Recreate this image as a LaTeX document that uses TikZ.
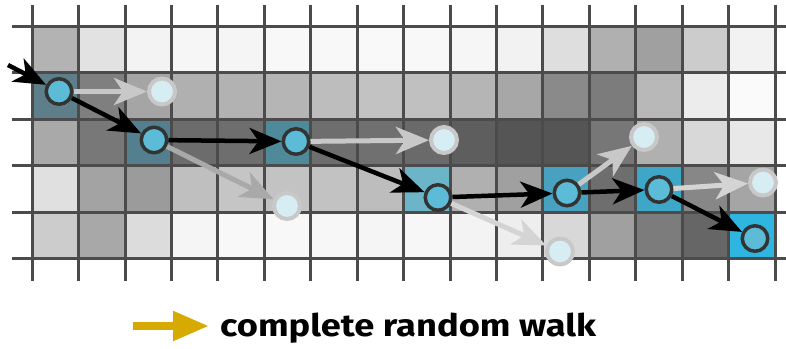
\documentclass[tikz,border=0pt]{standalone}
\usepackage{fontspec}
\newfontfamily\legendfont{Fira Sans}
\usetikzlibrary{arrows.meta}

\definecolor{gridgray}{RGB}{75,75,75}
\definecolor{nodeedge}{RGB}{51,51,51}
\definecolor{walkblue}{RGB}{92,187,214}
\definecolor{candfill}{RGB}{214,237,244}
\definecolor{candedge}{RGB}{200,200,200}
\definecolor{candarrowA}{RGB}{200,200,200}
\definecolor{candarrowB}{RGB}{169,169,169}
\definecolor{candarrowC}{RGB}{212,212,212}
\definecolor{legendgold}{RGB}{214,170,0}

\begin{document}
\begin{tikzpicture}[x=1pt,y=-1pt,
  gridline/.style={line width=3pt, draw=gridgray, line cap=butt},
  walknode/.style={circle, draw=nodeedge, fill=walkblue, line width=3.5pt,
    minimum size=25.5pt, inner sep=0pt},
  candnode/.style={circle, draw=candedge, fill=candfill, line width=4pt,
    minimum size=26pt, inner sep=0pt},
  walkarrow/.style={line width=4.5pt, draw=black,
    -{Stealth[length=32pt,width=26pt,inset=9pt]}},
  candarrow/.style={line width=5pt,
    -{Stealth[length=33pt,width=27pt,inset=9pt]}},
  legendarrow/.style={line width=8pt, draw=legendgold,
    -{Triangle[length=36pt,width=28pt]}},
]
\useasboundingbox (0,0) rectangle (786,348);

% cell shading, one list per row (grey levels)
\foreach \rowvals [count=\r from 0] in {
  {179,226,243,246,245,248,248,249,248,246,242,222,176,160,204,242},
  {94,127,165,176,178,181,189,194,192,181,167,138,124,184,236,250},
  {169,120,83,108,110,78,110,112,106,94,85,85,119,176,216,232},
  {224,163,155,191,197,195,194,189,108,176,160,72,110,62,135,165},
  {204,168,220,245,248,248,247,245,247,243,238,216,160,124,102,46}} {
  \foreach \v [count=\c from 0] in \rowvals {
    \definecolor{cellc}{RGB}{\v,\v,\v}
    \fill[cellc] (32.3+46.42*\c,26.5+46.42*\r) rectangle ++(46.42,46.42);
  }
}

% visited cells tinted blue
\foreach \c/\r/\cr/\cg/\cb in {0/1/94/127/137, 2/2/83/127/142, 5/2/78/138/154,
    8/3/108/180/200, 11/3/72/162/191, 13/3/62/166/198, 15/4/46/181/224} {
  \definecolor{cellc}{RGB}{\cr,\cg,\cb}
  \fill[cellc] (32.3+46.42*\c,26.5+46.42*\r) rectangle ++(46.42,46.42);
}

% grid lines with overhanging ends
\foreach \i in {0,...,16}
  \draw[gridline] (32.3+46.42*\i,4.5) -- (32.3+46.42*\i,280.5);
\foreach \j in {0,...,5}
  \draw[gridline] (12,26.5+46.42*\j) -- (786,26.5+46.42*\j);

% walk positions
\node[walknode] (A) at (59,91.5) {};
\node[walknode] (B) at (154,140) {};
\node[walknode] (C) at (296,141.5) {};
\node[walknode] (D) at (438,197.5) {};
\node[walknode] (E) at (567,193) {};
\node[walknode] (F) at (659,189.5) {};
\node[walknode] (G) at (755,238.5) {};

% rejected candidates
\node[candnode] (a1) at (162,91.5) {};
\node[candnode] (b1) at (287,206) {};
\node[candnode] (c1) at (444,140) {};
\node[candnode] (d1) at (560,251.5) {};
\node[candnode] (e1) at (644,137) {};
\node[candnode] (f1) at (763,182.5) {};

\coordinate (entry) at (8,65);

% candidate proposals
\draw[candarrow, draw=candarrowA] (A) -- (a1);
\draw[candarrow, draw=candarrowB] (B) -- (b1);
\draw[candarrow, draw=candarrowA] (C) -- (c1);
\draw[candarrow, draw=candarrowC] (D) -- (d1);
\draw[candarrow, draw=candarrowA] (E) -- (e1);
\draw[candarrow, draw=candarrowC] (F) -- (f1);

% accepted steps
\draw[walkarrow] (entry) -- (A);
\draw[walkarrow] (A) -- (B);
\draw[walkarrow] (B) -- (C);
\draw[walkarrow] (C) -- (D);
\draw[walkarrow] (D) -- (E);
\draw[walkarrow] (E) -- (F);
\draw[walkarrow] (F) -- (G);

% legend
\coordinate (legtail) at (133,326);
\coordinate (leghead) at (209,326);
\draw[legendarrow] (legtail) -- (leghead);
\node[anchor=base west, inner sep=0pt] (legtext) at (220,336)
  {\scalebox{1.17}[1]{\legendfont\fontsize{31}{36}\selectfont\bfseries complete random walk}};
\end{tikzpicture}
\end{document}
